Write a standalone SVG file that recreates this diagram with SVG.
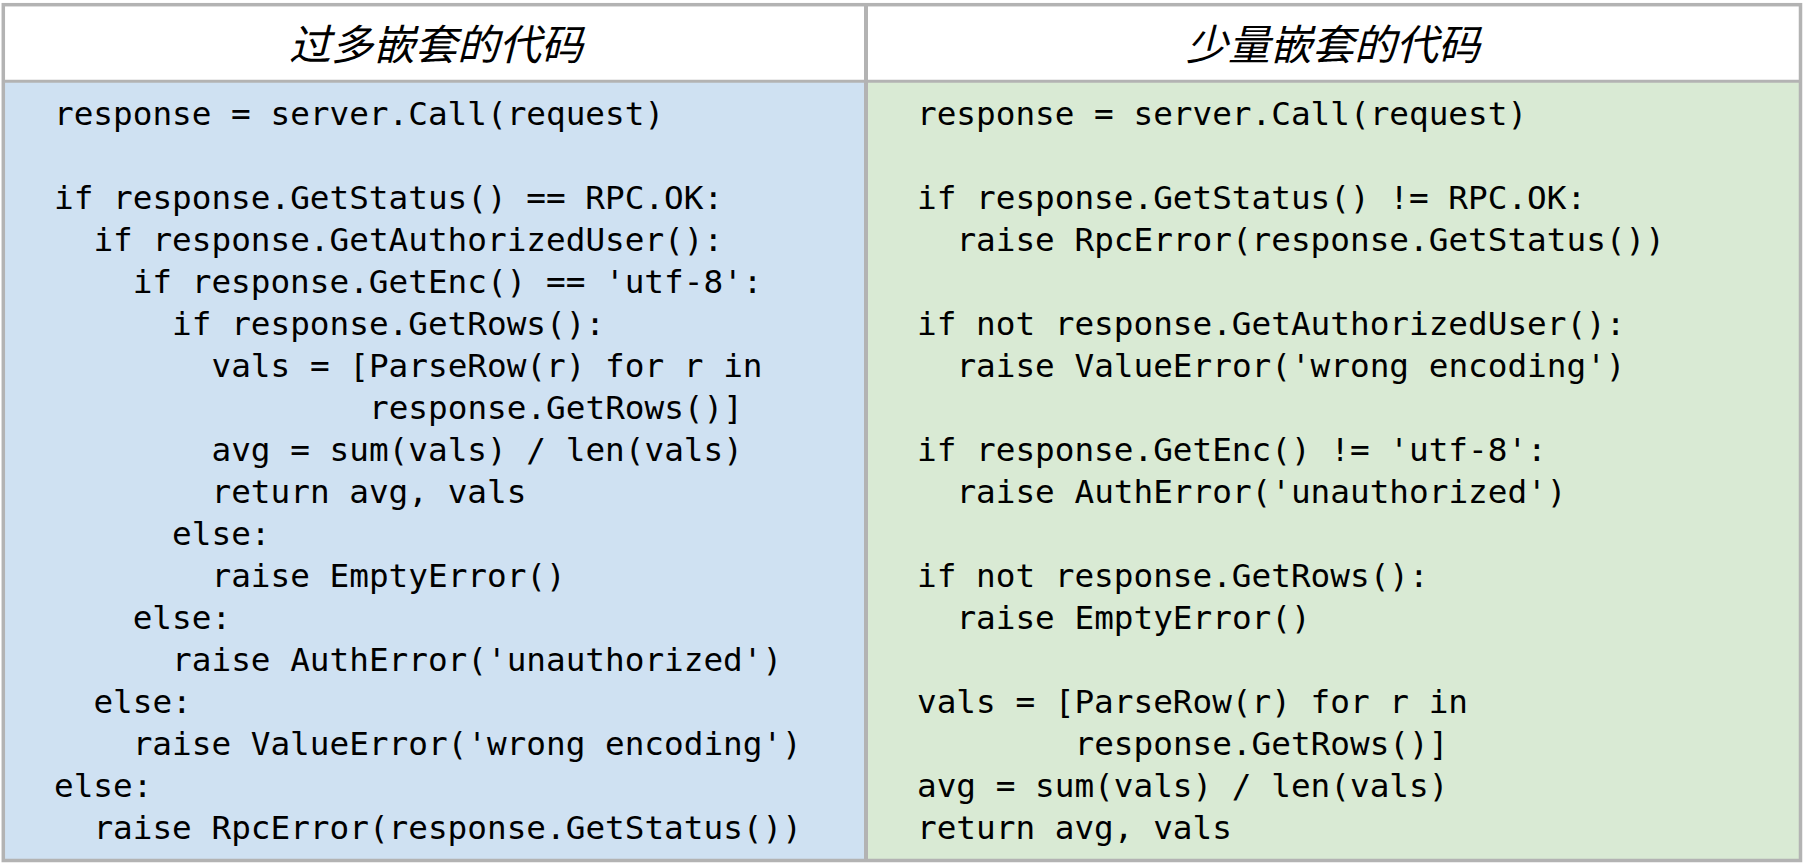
<svg xmlns="http://www.w3.org/2000/svg" width="1806" height="866" viewBox="0 0 1806 866">
<style>
.code{font-family:"DejaVu Sans Mono","Liberation Mono",monospace;font-size:32.7px;fill:#000}
.head{font-family:"Noto Sans CJK SC","Noto Sans",sans-serif;font-size:42px;font-style:italic;fill:#000;text-anchor:middle}
.grid{stroke:#b3b3b3;fill:none}
</style>
<rect x="0" y="0" width="1806" height="866" fill="#fff"/>
<g id="left-column">
<rect x="3" y="81" width="863" height="779" fill="#cfe1f2"/>
<text class="head" x="436" y="60">过多嵌套的代码</text>
<text class="code" x="54" y="124.5">response = server.Call(request)</text>
<text class="code" x="54" y="208.6">if response.GetStatus() == RPC.OK:</text>
<text class="code" x="93.4" y="250.65">if response.GetAuthorizedUser():</text>
<text class="code" x="132.7" y="292.7">if response.GetEnc() == 'utf-8':</text>
<text class="code" x="172.1" y="334.75">if response.GetRows():</text>
<text class="code" x="211.5" y="376.8">vals = [ParseRow(r) for r in</text>
<text class="code" x="369" y="418.85">response.GetRows()]</text>
<text class="code" x="211.5" y="460.9">avg = sum(vals) / len(vals)</text>
<text class="code" x="211.5" y="502.95">return avg, vals</text>
<text class="code" x="172.1" y="545">else:</text>
<text class="code" x="211.5" y="587.05">raise EmptyError()</text>
<text class="code" x="132.7" y="629.1">else:</text>
<text class="code" x="172.1" y="671.15">raise AuthError('unauthorized')</text>
<text class="code" x="93.4" y="713.2">else:</text>
<text class="code" x="132.7" y="755.25">raise ValueError('wrong encoding')</text>
<text class="code" x="54" y="797.3">else:</text>
<text class="code" x="93.4" y="839.35">raise RpcError(response.GetStatus())</text>
</g>
<g id="right-column">
<rect x="866" y="81" width="934" height="779" fill="#d9ead4"/>
<text class="head" x="1333" y="60">少量嵌套的代码</text>
<text class="code" x="917" y="124.5">response = server.Call(request)</text>
<text class="code" x="917" y="208.6">if response.GetStatus() != RPC.OK:</text>
<text class="code" x="956.4" y="250.65">raise RpcError(response.GetStatus())</text>
<text class="code" x="917" y="334.75">if not response.GetAuthorizedUser():</text>
<text class="code" x="956.4" y="376.8">raise ValueError('wrong encoding')</text>
<text class="code" x="917" y="460.9">if response.GetEnc() != 'utf-8':</text>
<text class="code" x="956.4" y="502.95">raise AuthError('unauthorized')</text>
<text class="code" x="917" y="587.05">if not response.GetRows():</text>
<text class="code" x="956.4" y="629.1">raise EmptyError()</text>
<text class="code" x="917" y="713.2">vals = [ParseRow(r) for r in</text>
<text class="code" x="1074.5" y="755.25">response.GetRows()]</text>
<text class="code" x="917" y="797.3">avg = sum(vals) / len(vals)</text>
<text class="code" x="917" y="839.35">return avg, vals</text>
</g>
<g id="grid">
<rect class="grid" x="3.3" y="4.7" width="1797.2" height="855.8" stroke-width="3.5"/>
<line class="grid" x1="866" y1="4.7" x2="866" y2="860.5" stroke-width="4"/>
<line class="grid" x1="3.3" y1="81.3" x2="1800.5" y2="81.3" stroke-width="3"/>
</g>
</svg>
